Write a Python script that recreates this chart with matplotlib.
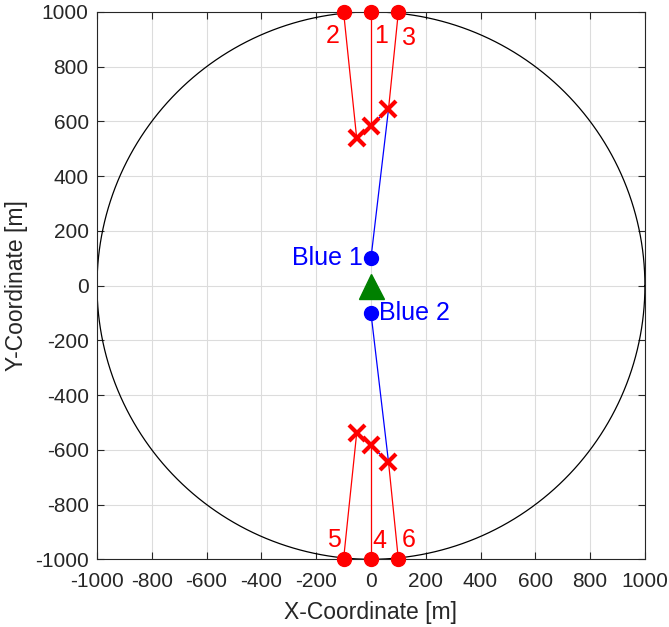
import numpy as np
import matplotlib.pyplot as plt

plt.rcParams['font.family'] = ['Liberation Sans', 'DejaVu Sans']
plt.rcParams['axes.unicode_minus'] = False

# Coverage radius and scenario geometry
radius = 1000
ticks = [-1000, -800, -600, -400, -200, 0, 200, 400, 600, 800, 1000]

# Red emitters (numbered) and their estimated positions
red_ids = ['1', '2', '3', '4', '5', '6']
red_x = [0, -100, 100, 0, -100, 100]
red_y = [1000, 1000, 1000, -1000, -1000, -1000]
est_x = [0, -52, 64, 0, -52, 64]
est_y = [583, 538, 644, -583, -538, -644]
label_x = [37, -138, 138, 32, -136, 137]
label_y = [912, 912, 906, -935, -930, -930]

# Blue nodes
blue_names = ['Blue 1', 'Blue 2']
blue_x = [0, 0]
blue_y = [100, -100]

# Reference station
base_x, base_y = 0, 0

fig = plt.figure(figsize=(6.69, 6.27), dpi=100)
ax = fig.add_axes([0.145, 0.108, 0.819, 0.873])

th = np.linspace(0, 2 * np.pi, 721)
ax.plot(radius * np.cos(th), radius * np.sin(th), color='black', lw=0.9, zorder=2)

# Lines from each emitter to its estimate
for i in range(6):
    ax.plot([red_x[i], est_x[i]], [red_y[i], est_y[i]], color='red', lw=0.9, zorder=3)

# Blue links: node to farthest estimate, and across the estimate cluster
for b, (i_far, i_a) in enumerate([(2, 1), (5, 4)]):
    ax.plot([blue_x[b], est_x[i_far]], [blue_y[b], est_y[i_far]], color='blue', lw=0.9, zorder=3)
    ax.plot([est_x[i_a], est_x[i_far]], [est_y[i_a], est_y[i_far]], color='blue', lw=0.9, zorder=3)

ax.plot(red_x, red_y, 'o', color='red', ms=10, zorder=5, clip_on=False)
ax.plot(est_x, est_y, 'x', color='red', ms=12, mew=3, zorder=5)

for i in range(6):
    ax.text(label_x[i], label_y[i], red_ids[i], color='red', fontsize=18,
            ha='center', va='center', zorder=6)

ax.plot(blue_x, blue_y, 'o', color='blue', ms=10, zorder=5)
ax.text(blue_x[0] - 30, blue_y[0], blue_names[0], color='blue', fontsize=18,
        ha='right', va='center', zorder=6)
ax.text(blue_x[1] + 30, blue_y[1], blue_names[1], color='blue', fontsize=18,
        ha='left', va='center', zorder=6)

ax.plot(base_x, base_y, '^', color='green', ms=18, zorder=4)

ax.set_xlim(-1000, 1000)
ax.set_ylim(-1000, 1000)
ax.set_xticks(ticks)
ax.set_yticks(ticks)
ax.tick_params(direction='in', top=True, right=True, labelsize=15, length=5,
               colors='#262626')
ax.tick_params(axis='x', pad=9)
ax.tick_params(axis='y', pad=6)
ax.grid(True, color='#dcdcdc', lw=0.8)
ax.set_axisbelow(True)
for s in ax.spines.values():
    s.set_color('#262626')
    s.set_linewidth(0.8)
ax.set_xlabel('X-Coordinate [m]', fontsize=16.5, color='#262626', labelpad=7)
ax.set_ylabel('Y-Coordinate [m]', fontsize=16.5, color='#262626', labelpad=5)

fig.savefig('out.png', dpi=100)
